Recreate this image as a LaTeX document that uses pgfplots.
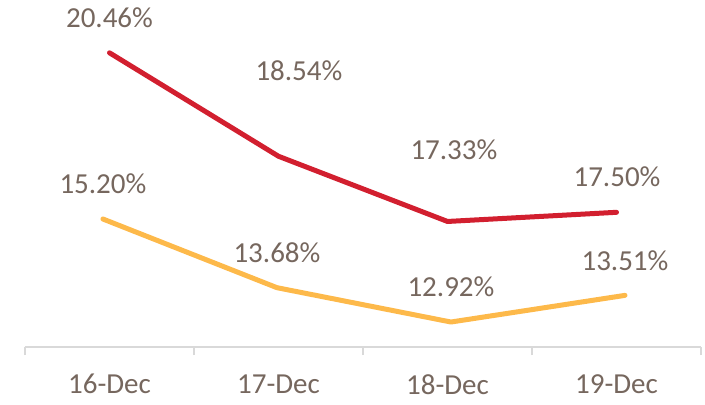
\documentclass[border=0pt]{standalone}
\usepackage{fontspec}
\setmainfont{Carlito}
\usepackage{pgfplots}
\pgfplotsset{compat=1.18}
\definecolor{redline}{HTML}{D21F2F}
\definecolor{yelline}{HTML}{FDB94A}
\definecolor{txt}{HTML}{76675E}
\definecolor{axgray}{HTML}{D9D9D9}
\begin{document}
\begin{tikzpicture}
\path[use as bounding box] (-12.5pt,-28.5pt) rectangle (340pt,173.5pt);
\begin{axis}[
  scale only axis, width=338pt, height=173.5pt,
  xmin=-0.5, xmax=3.5, ymin=15, ymax=21.44,
  axis y line=none, axis x line*=bottom,
  x axis line style={draw=axgray, line width=0.6pt, -},
  xtick={-0.5,0.5,1.5,2.5,3.5},
  x tick label as interval,
  xticklabels={16-Dec,17-Dec,18-Dec,19-Dec},
  tick align=outside, major tick length=4pt,
  x tick style={draw=axgray, line width=0.6pt},
  xticklabel style={font=\fontsize{14.5pt}{16pt}\selectfont, text=txt, anchor=north, inner sep=0pt, yshift=-9.5pt},
  clip=false,
]
\addplot[redline, line width=2.5pt, line cap=round, line join=round] coordinates {(0,20.46)(1,18.54)(2,17.33)(3,17.50)};
\begin{scope}[every node/.style={font=\fontsize{14.5pt}{16pt}\selectfont, text=txt, anchor=center, inner sep=0pt}]
\node at (axis cs:0,21.11) {20.46\%};
\node at (axis cs:1.121,20.125) {18.54\%};
\node at (axis cs:2.038,18.658) {17.33\%};
\node at (axis cs:3.003,18.157) {17.50\%};
\end{scope}
\end{axis}
\begin{axis}[
  scale only axis, width=338pt, height=173.5pt,
  xmin=-0.448, xmax=3.437, ymin=12.367, ymax=20.047,
  hide axis, clip=false,
]
\addplot[yelline, line width=2.5pt, line cap=round, line join=round] coordinates {(0,15.20)(1,13.68)(2,12.92)(3,13.51)};
\begin{scope}[every node/.style={font=\fontsize{14.5pt}{16pt}\selectfont, text=txt, anchor=center, inner sep=0pt}]
\node at (axis cs:0,15.975) {15.20\%};
\node at (axis cs:1,14.448) {13.68\%};
\node at (axis cs:2,13.695) {12.92\%};
\node at (axis cs:3,14.270) {13.51\%};
\end{scope}
\end{axis}
\end{tikzpicture}
\end{document}
